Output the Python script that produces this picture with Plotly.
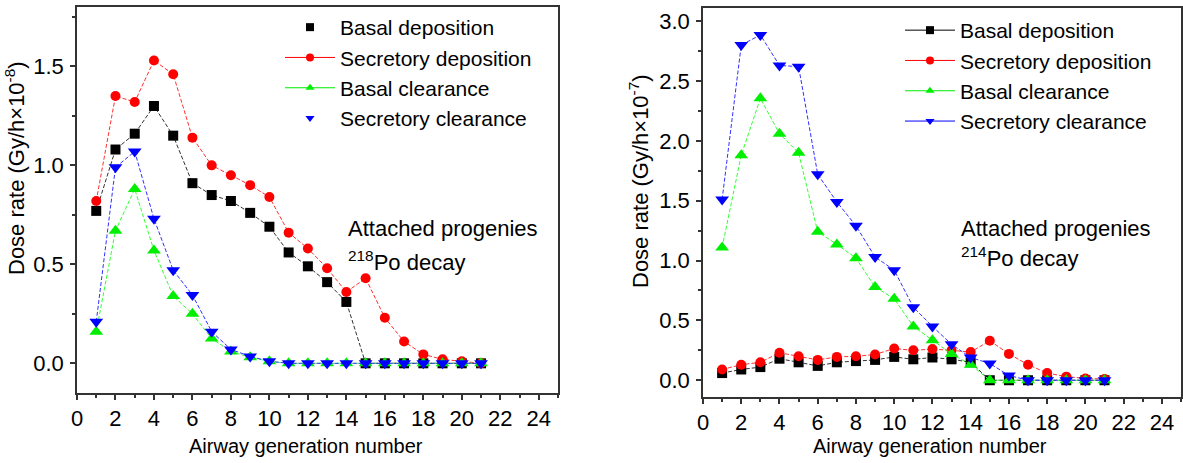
import plotly.graph_objects as go

# ---------------- data ----------------
generations = list(range(1, 22))

# Left panel: 218Po decay (Gy/h x 1e-8)
left_basal_dep = [0.77, 1.08, 1.16, 1.30, 1.15, 0.91, 0.85, 0.82, 0.76, 0.69, 0.56,
                  0.49, 0.41, 0.31, 0.0, 0.0, 0.0, 0.0, 0.0, 0.0, 0.0]
left_secr_dep = [0.82, 1.35, 1.32, 1.53, 1.46, 1.14, 1.00, 0.95, 0.90, 0.84, 0.66,
                 0.58, 0.48, 0.36, 0.43, 0.23, 0.11, 0.045, 0.02, 0.01, 0.0]
left_basal_clr = [0.16, 0.67, 0.88, 0.57, 0.34, 0.25, 0.125, 0.06, 0.03, 0.01, 0.0,
                  0.0, 0.0, 0.0, 0.0, 0.0, 0.0, 0.0, 0.0, 0.0, 0.0]
left_secr_clr = [0.21, 0.99, 1.07, 0.73, 0.47, 0.345, 0.16, 0.07, 0.035, 0.01, 0.0,
                 0.0, 0.0, 0.0, 0.0, 0.0, 0.0, 0.0, 0.0, 0.0, 0.0]

# Right panel: 214Po decay (Gy/h x 1e-7)
right_basal_dep = [0.06, 0.09, 0.11, 0.18, 0.15, 0.12, 0.15, 0.16, 0.17, 0.195, 0.175,
                   0.19, 0.175, 0.15, 0.0, 0.0, 0.0, 0.0, 0.0, 0.0, 0.0]
right_secr_dep = [0.09, 0.13, 0.15, 0.23, 0.20, 0.17, 0.195, 0.20, 0.215, 0.265, 0.25,
                  0.26, 0.25, 0.235, 0.33, 0.22, 0.13, 0.06, 0.03, 0.015, 0.01]
right_basal_clr = [1.11, 1.88, 2.355, 2.06, 1.90, 1.24, 1.135, 1.02, 0.78, 0.68, 0.45,
                   0.335, 0.22, 0.13, 0.0, 0.0, 0.0, 0.0, 0.0, 0.0, 0.0]
right_secr_clr = [1.51, 2.80, 2.885, 2.63, 2.62, 1.72, 1.49, 1.29, 1.03, 0.92, 0.61,
                  0.45, 0.30, 0.19, 0.14, 0.04, 0.0, 0.0, 0.0, 0.0, 0.0]

series_names = ["Basal deposition", "Secretory deposition", "Basal clearance", "Secretory clearance"]
series_colors = ["#000000", "#ff0000", "#00ee00", "#0000ff"]
line_colors = ["#333333", "#ff3030", "#30ff30", "#3030ff"]
series_symbols = ["square", "circle", "triangle-up", "triangle-down"]
series_sizes = [10, 10, 12, 12]

x_ticks = list(range(0, 25, 2))
y_ticks_left = [0.0, 0.5, 1.0, 1.5]
y_ticks_right = [0.0, 0.5, 1.0, 1.5, 2.0, 2.5, 3.0]

FONT = "Arial, Liberation Sans, sans-serif"

# layout in screen pixels (page body margin removed via post_script)
W, H = 1183, 463


def px(x):
    return x / W


def py(y):
    return (H - y) / H


def dom(y_bottom, y_top):
    return [max(0.0, py(y_bottom)), min(1.0, py(y_top))]


fig = go.Figure()

left_data = [left_basal_dep, left_secr_dep, left_basal_clr, left_secr_clr]
right_data = [right_basal_dep, right_secr_dep, right_basal_clr, right_secr_clr]

# left legend shows markers only for entries 0 and 3
left_legend_has_line = [False, True, True, False]

for i, ys in enumerate(left_data):
    fig.add_trace(go.Scatter(
        x=generations, y=ys, xaxis="x", yaxis="y",
        mode="lines+markers", name=series_names[i], showlegend=False,
        line=dict(color=line_colors[i], width=1, dash="4px,2px"),
        marker=dict(symbol=series_symbols[i], size=series_sizes[i], color=series_colors[i]),
    ))
for i in range(4):
    fig.add_trace(go.Scatter(
        x=[None], y=[None], xaxis="x", yaxis="y",
        mode="lines+markers" if left_legend_has_line[i] else "markers",
        name=series_names[i], legend="legend", legendrank=i + 1,
        line=dict(color=series_colors[i], width=1),
        marker=dict(symbol=series_symbols[i], size=8, color=series_colors[i]),
    ))

for i, ys in enumerate(right_data):
    fig.add_trace(go.Scatter(
        x=generations, y=ys, xaxis="x2", yaxis="y2",
        mode="lines+markers", name=series_names[i], showlegend=False,
        line=dict(color=line_colors[i], width=1, dash="4px,2px"),
        marker=dict(symbol=series_symbols[i], size=series_sizes[i], color=series_colors[i]),
    ))
for i in range(4):
    fig.add_trace(go.Scatter(
        x=[None], y=[None], xaxis="x2", yaxis="y2",
        mode="lines+markers",
        name=series_names[i], legend="legend2", legendrank=i + 1,
        line=dict(color=series_colors[i], width=1),
        marker=dict(symbol=series_symbols[i], size=8, color=series_colors[i]),
    ))


def axis_common(dtick_minor):
    return dict(
        showline=True, mirror=True, linecolor="#333333", linewidth=1.5,
        ticks="outside", ticklen=5, tickwidth=1.5, tickcolor="#333333",
        showgrid=False, zeroline=False, automargin=False,
        tickfont=dict(family=FONT, size=22, color="black"),
        minor=dict(ticks="outside", ticklen=3, tickwidth=1.5, tickcolor="#333333",
                   dtick=dtick_minor, tick0=0, showgrid=False),
    )


xa = axis_common(1)
xa.update(domain=[px(77), px(558)], range=[0, 25], tickvals=x_ticks, anchor="y")
ya = axis_common(0.25)
ya.update(domain=dom(393, 7), range=[-0.15, 1.80], tickvals=y_ticks_left,
          tickformat=".1f", anchor="x", ticklabelstandoff=2)
xa2 = axis_common(1)
xa2.update(domain=[px(703), px(1181)], range=[0, 25], tickvals=x_ticks, anchor="y2")
ya2 = axis_common(0.25)
ya2.update(domain=dom(397, 8), range=[-0.14, 3.11], tickvals=y_ticks_right,
           tickformat=".1f", anchor="x2", ticklabelstandoff=2)

legend_common = dict(
    font=dict(family=FONT, size=21, color="black"),
    bgcolor="rgba(0,0,0,0)", borderwidth=0, itemwidth=50,
    xanchor="left", yanchor="top", tracegroupgap=0,
)
leg1 = dict(legend_common)
leg1.update(x=px(280), y=py(7))
leg2 = dict(legend_common)
leg2.update(x=px(900), y=py(10))

title_font = dict(family=FONT, size=20, color="black")
ytitle_font = dict(family=FONT, size=22, color="black")
text_font = dict(family=FONT, size=22, color="black")

annotations = [
    dict(text="Airway generation number", x=px(306), y=py(446), xref="paper", yref="paper",
         showarrow=False, xanchor="center", yanchor="middle", font=title_font),
    dict(text="Airway generation number", x=px(930), y=py(446), xref="paper", yref="paper",
         showarrow=False, xanchor="center", yanchor="middle", font=title_font),
    dict(text="Dose rate (Gy/h×10<sup>-8</sup>)", x=px(15), y=py(168), xref="paper", yref="paper",
         showarrow=False, textangle=-90, xanchor="center", yanchor="middle", font=ytitle_font),
    dict(text="Dose rate (Gy/h×10<sup>-7</sup>)", x=px(639), y=py(181), xref="paper", yref="paper",
         showarrow=False, textangle=-90, xanchor="center", yanchor="middle", font=ytitle_font),
    dict(text="Attached progenies", x=px(346), y=py(228), xref="paper", yref="paper",
         showarrow=False, xanchor="left", yanchor="middle", font=text_font),
    dict(text="<sup>218</sup>Po decay", x=px(346), y=py(261), xref="paper", yref="paper",
         showarrow=False, xanchor="left", yanchor="middle", font=text_font),
    dict(text="Attached progenies", x=px(959), y=py(228), xref="paper", yref="paper",
         showarrow=False, xanchor="left", yanchor="middle", font=text_font),
    dict(text="<sup>214</sup>Po decay", x=px(959), y=py(257), xref="paper", yref="paper",
         showarrow=False, xanchor="left", yanchor="middle", font=text_font),
]

fig.update_layout(
    template="none",
    width=W, height=H,
    margin=dict(l=0, r=0, t=0, b=0),
    paper_bgcolor="white", plot_bgcolor="white",
    font=dict(family=FONT, color="black"),
    xaxis=xa, yaxis=ya, xaxis2=xa2, yaxis2=ya2,
    legend=leg1, legend2=leg2,
    annotations=annotations,
    showlegend=True,
)

fig.write_html("out.html", config={"displayModeBar": False},
               post_script="document.body.style.margin='0px';")
